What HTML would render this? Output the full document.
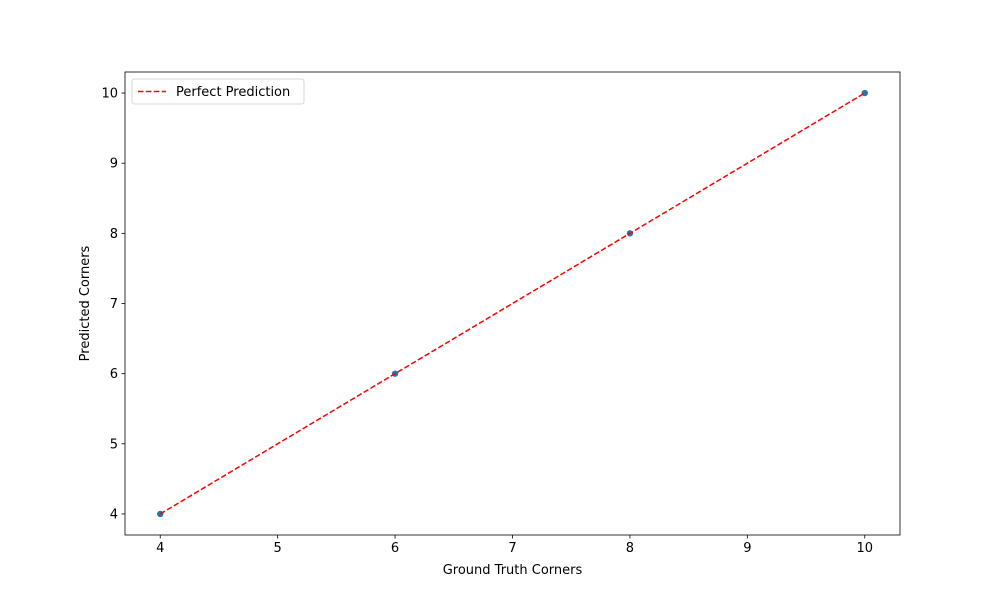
<!DOCTYPE html>
<html><head><meta charset="utf-8"><style>
html,body{margin:0;padding:0;background:#fff;}
svg{display:block;font-family:"DejaVu Sans","Liberation Sans",sans-serif;}
</style></head><body>
<svg id="chart" width="1000" height="600" xmlns="http://www.w3.org/2000/svg"></svg>
<script>
const xValues = [4, 6, 8, 10];
const yValues = [4, 6, 8, 10];
const lineX = [4, 10];
const lineY = [4, 10];
const xTicks = [4, 5, 6, 7, 8, 9, 10];
const yTicks = [4, 5, 6, 7, 8, 9, 10];
const xDomain = [3.7, 10.3];
const yDomain = [3.7, 10.3];

const L = 125, R = 900, T = 72, B = 535;
const sx = v => L + (v - xDomain[0]) / (xDomain[1] - xDomain[0]) * (R - L);
const sy = v => B - (v - yDomain[0]) / (yDomain[1] - yDomain[0]) * (B - T);
const NS = 'http://www.w3.org/2000/svg';
const svg = document.getElementById('chart');
function mk(tag, attrs, parent) {
  const e = document.createElementNS(NS, tag);
  for (const k in attrs) e.setAttribute(k, attrs[k]);
  (parent || svg).appendChild(e);
  return e;
}

xTicks.forEach(t => {
  const x = sx(t);
  const tk = mk('line', {x1: x, x2: x, y1: B, y2: B + 3.5, stroke: '#000', 'stroke-width': 0.8});
  
  
  const lb = mk('text', {x: x, y: B + 17, 'font-size': 13, 'text-anchor': 'middle', fill: '#000'});
  lb.textContent = t;
  
  
});
yTicks.forEach(t => {
  const y = sy(t);
  const tk = mk('line', {x1: L - 3.5, x2: L, y1: y, y2: y, stroke: '#000', 'stroke-width': 0.8});
  
  
  const lb = mk('text', {x: L - 7, y: y + 4.5, 'font-size': 13, 'text-anchor': 'end', fill: '#000'});
  lb.textContent = t;
  
  
});

xValues.forEach((v, i) => {
  const c = mk('circle', {cx: sx(v), cy: sy(yValues[i]), r: 3.5, fill: '#1f77b4', stroke: '#fff', 'stroke-width': 0.6});
  
  
});

const ln = mk('line', {x1: sx(lineX[0]), y1: sy(lineY[0]), x2: sx(lineX[1]), y2: sy(lineY[1]), stroke: '#ff0000', 'stroke-width': 1.5, 'stroke-dasharray': '5.5,2.4'});



const frame = mk('rect', {x: L, y: T, width: R - L, height: B - T, fill: 'none', stroke: '#000', 'stroke-width': 0.8});



const xt = mk('text', {x: (L + R) / 2, y: 574, 'font-size': 13, 'text-anchor': 'middle'});
xt.textContent = 'Ground Truth Corners';


const yt = mk('text', {x: 0, y: 0, 'font-size': 13, 'text-anchor': 'middle', transform: `translate(89,${(T + B) / 2}) rotate(-90)`});
yt.textContent = 'Predicted Corners';



const lg = mk('g', {});


mk('rect', {x: 132, y: 79, width: 172, height: 25, rx: 2.5, fill: '#fff', 'fill-opacity': 0.8, stroke: '#ccc', 'stroke-width': 0.8}, lg);
const ll = mk('line', {x1: 138, x2: 166, y1: 91.5, y2: 91.5, stroke: '#ff0000', 'stroke-width': 1.5, 'stroke-dasharray': '5.5,2.4'}, lg);


const lt = mk('text', {x: 176, y: 96, 'font-size': 13}, lg);
lt.textContent = 'Perfect Prediction';


</script>
</body></html>
